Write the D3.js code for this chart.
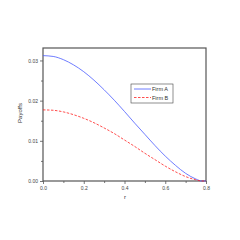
<!DOCTYPE html>
<html>
<head>
<meta charset="utf-8">
<script src="https://cdn.jsdelivr.net/npm/d3@7"></script>
<style>
  body { margin: 0; background: #fff; }
  svg { display: block; font-family: "Liberation Sans", Arial, sans-serif; }
</style>
</head>
<body>
<svg width="240" height="240"></svg>
<script>
var rValues = [0, 0.05, 0.1, 0.15, 0.2, 0.25, 0.3, 0.35, 0.4, 0.45, 0.5, 0.55, 0.6, 0.65, 0.7, 0.75, 0.78, 0.8];
var firmA = [0.0312, 0.0310, 0.0302, 0.0289, 0.0272, 0.0251, 0.0227, 0.0201, 0.0173, 0.0144, 0.0116, 0.0088, 0.0062, 0.0039, 0.0019, 0.0005, 0.0, 0.0];
var firmB = [0.0177, 0.0176, 0.0172, 0.0165, 0.0156, 0.0145, 0.0132, 0.0118, 0.0102, 0.0086, 0.0069, 0.0053, 0.0037, 0.0023, 0.0011, 0.0003, 0.0, 0.0];
var xTicks = [0, 0.2, 0.4, 0.6, 0.8];
var yTicks = [0, 0.01, 0.02, 0.03];
var seriesNames = ["Firm A", "Firm B"];

var svg = d3.select("svg");
var plotLeft = 43, plotRight = 206, plotTop = 48, plotBottom = 181;

var x = d3.scaleLinear().domain([0, 0.8]).range([plotLeft, plotRight]);
var y = d3.scaleLinear().domain([0, 0.0331]).range([plotBottom, plotTop]);

var axisColor = "#555";

// minor ticks
var xMinor = d3.axisBottom(x).tickValues([0.1, 0.3, 0.5, 0.7]).tickSize(2).tickFormat("");
var yMinor = d3.axisLeft(y).tickValues([0.005, 0.015, 0.025]).tickSize(2).tickFormat("");

svg.append("g").attr("transform", "translate(0," + plotBottom + ")").call(xMinor);
svg.append("g").attr("transform", "translate(" + plotLeft + ",0)").call(yMinor);

var xAxis = d3.axisBottom(x).tickValues(xTicks).tickSize(3).tickPadding(2)
  .tickFormat(d3.format(".1f"));
var yAxis = d3.axisLeft(y).tickValues(yTicks).tickSize(3).tickPadding(2)
  .tickFormat(d3.format(".2f"));

svg.append("g").attr("class", "xaxis").attr("transform", "translate(0," + plotBottom + ")").call(xAxis);
svg.append("g").attr("class", "yaxis").attr("transform", "translate(" + plotLeft + ",0)").call(yAxis);

svg.selectAll(".domain").remove();
svg.selectAll(".tick line").attr("stroke", axisColor).attr("stroke-width", 0.8);
svg.selectAll(".tick text").attr("fill", "#444").style("font-size", "5px");

// frame
svg.append("rect")
  .attr("x", plotLeft).attr("y", plotTop)
  .attr("width", plotRight - plotLeft).attr("height", plotBottom - plotTop)
  .attr("fill", "none").attr("stroke", axisColor).attr("stroke-width", 1.2);

var line = d3.line()
  .x(function (d, i) { return x(rValues[i]); })
  .y(function (d) { return y(d); })
  .curve(d3.curveMonotoneX);

svg.append("path").datum(firmA)
  .attr("d", line).attr("fill", "none")
  .attr("stroke", "#4a5cff").attr("stroke-width", 0.8);

svg.append("path").datum(firmB)
  .attr("d", line).attr("fill", "none")
  .attr("stroke", "#ff2020").attr("stroke-width", 0.8)
  .attr("stroke-dasharray", "2.5,1.5");

// legend
var lg = svg.append("g");
lg.append("rect").attr("x", 131).attr("y", 84).attr("width", 42).attr("height", 19)
  .attr("fill", "#fff").attr("stroke", "#444").attr("stroke-width", 0.6);
var legendColors = ["#4a5cff", "#ff2020"];
var legendDash = [null, "2.5,1.5"];
seriesNames.forEach(function (name, i) {
  var ly = 89 + i * 8.5;
  lg.append("line").attr("x1", 134).attr("x2", 151).attr("y1", ly).attr("y2", ly)
    .attr("stroke", legendColors[i]).attr("stroke-width", 0.8)
    .attr("stroke-dasharray", legendDash[i]);
  lg.append("text").attr("x", 152).attr("y", ly + 2)
    .attr("fill", "#333").style("font-size", "5.5px").text(name);
});

// axis titles
svg.append("text").attr("x", 125).attr("y", 199).attr("text-anchor", "middle")
  .attr("fill", "#333").style("font-size", "6px").text("r");
svg.append("text").attr("transform", "translate(22,113) rotate(-90)")
  .attr("text-anchor", "middle").attr("fill", "#333").style("font-size", "6px").text("Payoffs");
</script>
</body>
</html>
